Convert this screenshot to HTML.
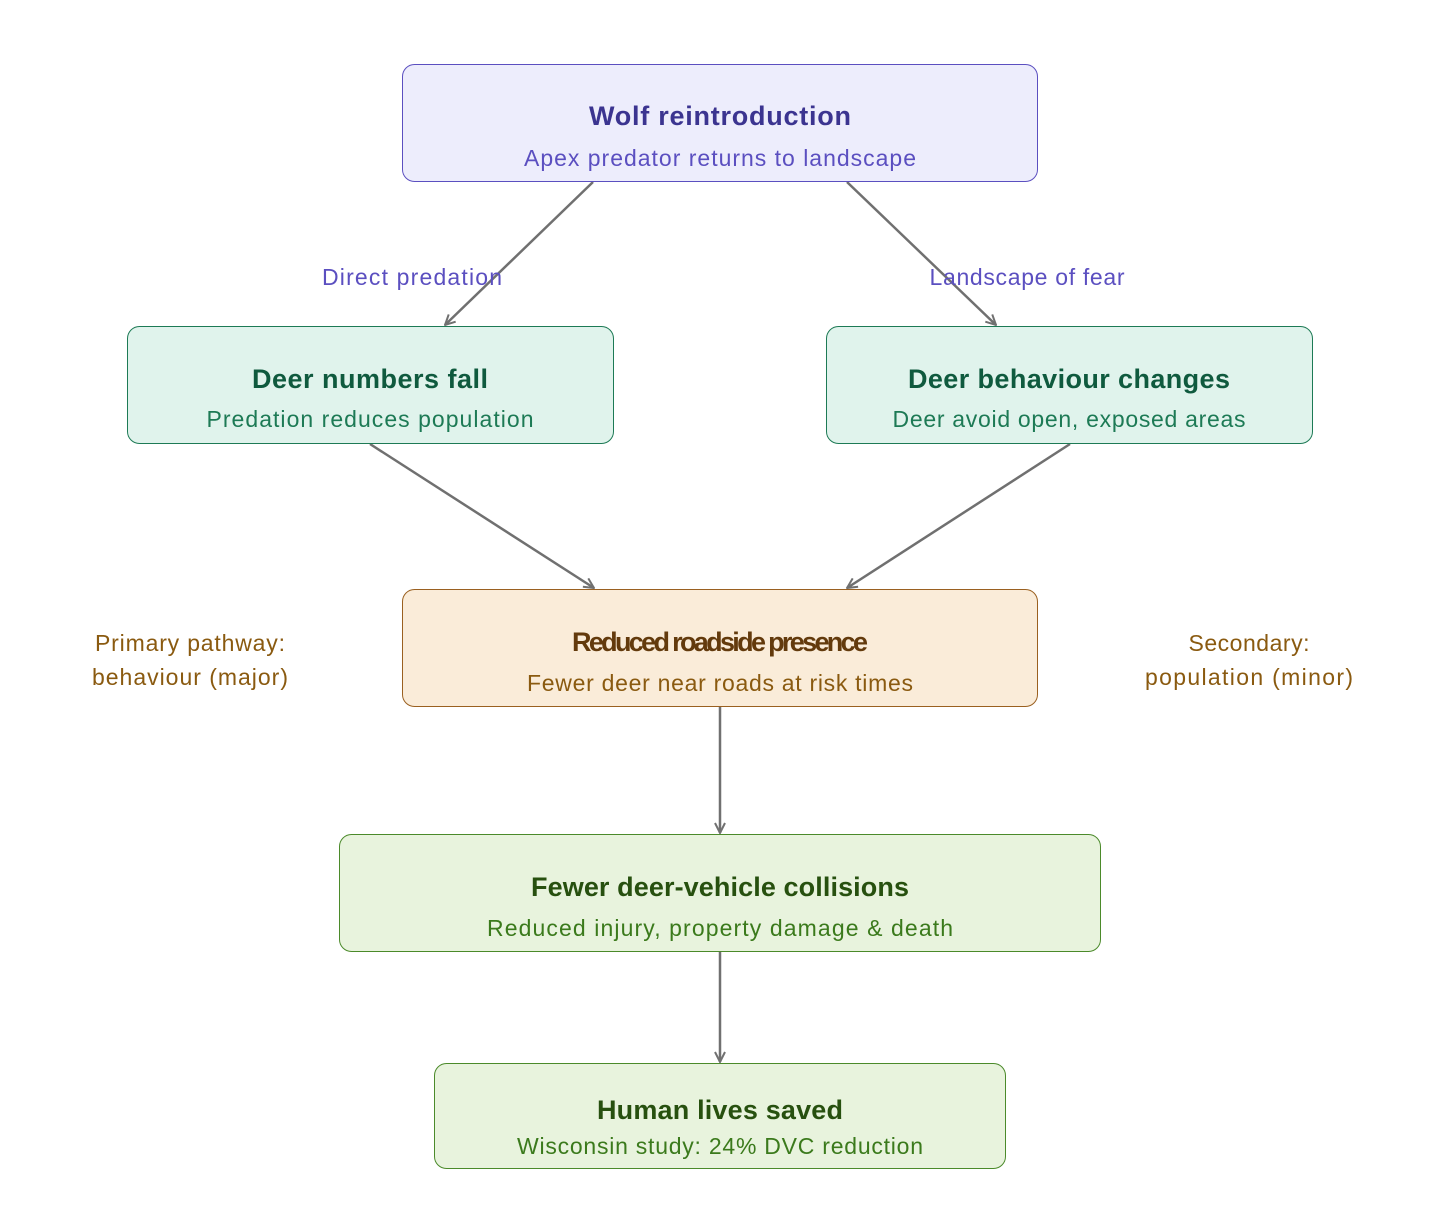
<!DOCTYPE html>
<html><head><meta charset="utf-8"><style>html,body{margin:0;padding:0;background:#fff}svg{display:block}</style></head>
<body>
<svg width="1440" height="1228" viewBox="0 0 1440 1228" xmlns="http://www.w3.org/2000/svg" font-family="'Liberation Sans', sans-serif" text-anchor="middle">
<defs>
<marker id="a" viewBox="0 0 12 12" refX="11" refY="6" markerWidth="12" markerHeight="12" markerUnits="userSpaceOnUse" orient="auto">
<path d="M1,1 L11,6 L1,11" fill="none" stroke="#707070" stroke-width="2"/>
</marker>
</defs>
<g stroke="#707070" stroke-width="2.5" fill="none" marker-end="url(#a)">
<line x1="593" y1="182" x2="445" y2="325"/>
<line x1="847" y1="182" x2="996" y2="325"/>
<line x1="370" y1="444" x2="594" y2="588"/>
<line x1="1070" y1="444" x2="847" y2="588"/>
<line x1="720" y1="707" x2="720" y2="833"/>
<line x1="720" y1="952" x2="720" y2="1062"/>
</g>
<rect x="402.5" y="64.5" width="635" height="117" rx="12" fill="#ededfc" stroke="#5b4fc0"/>
<text x="720" y="125" font-size="27" font-weight="bold" fill="#3b3490" textLength="262">Wolf reintroduction</text>
<text x="720" y="166" font-size="23" fill="#5b4fc0" textLength="392">Apex predator returns to landscape</text>

<rect x="127.5" y="326.5" width="486" height="117" rx="12" fill="#e0f3ec" stroke="#1d7a55"/>
<text x="370" y="388" font-size="27" font-weight="bold" fill="#0f5a3e" textLength="236">Deer numbers fall</text>
<text x="370" y="427" font-size="23" fill="#1d7a55" textLength="327">Predation reduces population</text>

<rect x="826.5" y="326.5" width="486" height="117" rx="12" fill="#e0f3ec" stroke="#1d7a55"/>
<text x="1069" y="388" font-size="27" font-weight="bold" fill="#0f5a3e" textLength="322">Deer behaviour changes</text>
<text x="1069" y="427" font-size="23" fill="#1d7a55" textLength="353">Deer avoid open, exposed areas</text>

<rect x="402.5" y="589.5" width="635" height="117" rx="12" fill="#faecd9" stroke="#9a6020"/>
<text x="720" y="651" font-size="27" font-weight="bold" fill="#633a0c" textLength="296">Reduced roadside presence</text>
<text x="720" y="691" font-size="23" fill="#8a5a10" textLength="386">Fewer deer near roads at risk times</text>

<rect x="339.5" y="834.5" width="761" height="117" rx="12" fill="#e8f3dd" stroke="#4b8a2a"/>
<text x="720" y="896" font-size="27" font-weight="bold" fill="#27500f" textLength="378">Fewer deer-vehicle collisions</text>
<text x="720" y="936" font-size="23" fill="#3b7a1c" textLength="466">Reduced injury, property damage &amp; death</text>

<rect x="434.5" y="1063.5" width="571" height="105" rx="12" fill="#e8f3dd" stroke="#4b8a2a"/>
<text x="720" y="1119" font-size="27" font-weight="bold" fill="#27500f" textLength="246">Human lives saved</text>
<text x="720" y="1154" font-size="23" fill="#3b7a1c" textLength="406">Wisconsin study: 24% DVC reduction</text>

<g font-size="23" fill="#5b4fc0">
<text x="412" y="285" textLength="180">Direct predation</text>
<text x="1027" y="285" textLength="195">Landscape of fear</text>
</g>
<g font-size="23" fill="#8a5a10">
<text x="190" y="651" textLength="190">Primary pathway:</text>
<text x="190" y="685" textLength="196">behaviour (major)</text>
<text x="1249" y="651" textLength="121">Secondary:</text>
<text x="1249" y="685" textLength="208">population (minor)</text>
</g>
</svg>
</body></html>
